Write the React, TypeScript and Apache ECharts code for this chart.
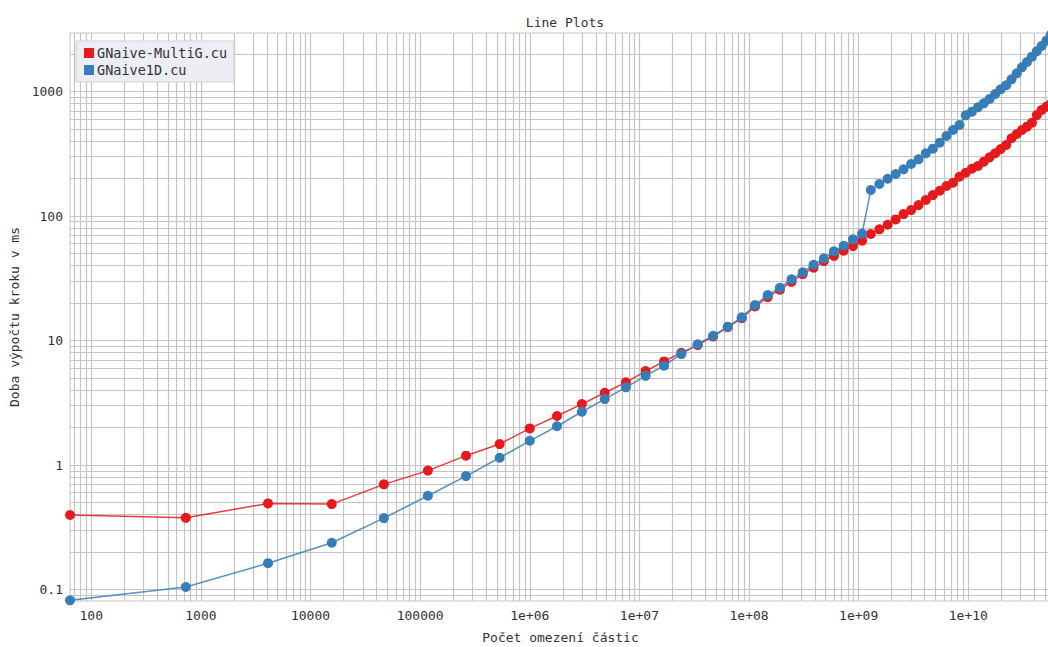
import React, { useEffect, useRef } from "react";
import * as echarts from "echarts";

// constraint counts (x axis)
const constraintCounts = [
  64, 729, 4096, 15625, 46656, 117649, 262144, 531441, 1000000, 1771561,
  2985984, 4826809, 7529536, 11390625, 16777216, 24137569, 34012224, 47045881, 64000000, 85766121,
  113379904, 148035889, 191102976, 244140625, 308915776, 387420489, 481890304, 594823321, 729000000, 887503681,
  1073741824, 1291467969, 1544804416, 1838265625, 2176782336, 2565726409, 3010936384, 3518743761, 4096000000, 4750104241,
  5489031744, 6321363049, 7256313856, 8303765625, 9474296896, 10779215329, 12230590464, 13841287201, 15625000000, 17596287801,
  19770609664, 22164361129, 24794911296, 27680640625, 30840979456, 34296447249, 38068692544, 42180533641, 46656000000, 51520374361,
  56800235584,
];

const multiGTimes = [
  0.397, 0.377, 0.492, 0.486, 0.7, 0.903, 1.19, 1.475, 1.97, 2.48,
  3.09, 3.81, 4.62, 5.69, 6.8, 7.98, 9.2, 10.8, 12.8, 15.1,
  18.8, 22.3, 25.6, 29.6, 34.2, 38.4, 43.5, 47.8, 52.7, 57.4,
  63.3, 71.7, 78.2, 85.1, 94.0, 103.7, 111.7, 122.5, 134.4, 147.4,
  159.7, 174.2, 185.1, 206.8, 222.7, 239.9, 252.2, 273.1, 296.2, 319,
  345, 372, 421, 456, 491, 522, 561, 647, 710, 755,
  800,
];

const naive1DTimes = [
  0.082, 0.105, 0.163, 0.238, 0.375, 0.567, 0.816, 1.145, 1.567, 2.05,
  2.68, 3.39, 4.21, 5.21, 6.28, 7.79, 9.32, 10.93, 12.91, 15.36,
  19.28, 23.2, 26.5, 31.0, 35.3, 40.6, 45.7, 52.1, 57.7, 65.1,
  72.3, 161.8, 180.8, 199.4, 217.5, 237.2, 261.6, 285.3, 318.8, 347.4,
  388.1, 439.2, 490.8, 538.4, 644.0, 688.5, 746.6, 803.9, 870.7, 955.0,
  1042, 1122, 1253, 1400, 1564, 1725, 1904, 2105, 2319, 2559,
  2870,
];

const seriesNames = ["GNaive-MultiG.cu", "GNaive1D.cu"];
const seriesColors = ["#e41a1c", "#377eb8"];

const xTickExponents = [2, 3, 4, 5, 6, 7, 8, 9, 10];
const xTickLabels = ["100", "1000", "10000", "100000", "1e+06", "1e+07", "1e+08", "1e+09", "1e+10"];
const yTickExponents = [-1, 0, 1, 2, 3];
const yTickLabels = ["0.1", "1", "10", "100", "1000"];

const xRange = [64, 56800235584];
const yRange = [0.081, 2950];

const gridMultipliers = [1, 2, 3, 4, 5, 6, 7, 8, 9];
const xGridDecades = [1, 2, 3, 4, 5, 6, 7, 8, 9, 10];
const yGridDecades = [-2, -1, 0, 1, 2, 3];

const FONT = "'DejaVu Sans Mono', monospace";

function labelFor(v: number, exps: number[], labels: string[]) {
  const k = Math.round(Math.log10(v));
  const i = exps.indexOf(k);
  return i >= 0 ? labels[i] : "";
}

export default function App() {
  const ref = useRef<HTMLDivElement>(null);
  useEffect(() => {
    if (!ref.current) return;
    const chart = echarts.init(ref.current, null, { renderer: "svg" });

    const gridLines: any[] = [];
    xGridDecades.forEach((d) =>
      gridMultipliers.forEach((m) => {
        const v = m * Math.pow(10, d);
        if (v > xRange[0] && v < xRange[1]) gridLines.push({ xAxis: v });
      })
    );
    yGridDecades.forEach((d) =>
      gridMultipliers.forEach((m) => {
        const v = m * Math.pow(10, d);
        if (v > yRange[0] && v < yRange[1]) gridLines.push({ yAxis: v });
      })
    );

    chart.setOption({
      animation: false,
      backgroundColor: "#ffffff",
      title: {
        text: "Line Plots",
        left: 560,
        textAlign: "center",
        top: 11,
        textStyle: { fontFamily: FONT, fontSize: 13, fontWeight: "normal", color: "#333" },
      },
      legend: {
        data: seriesNames,
        orient: "vertical",
        left: 76,
        top: 41,
        icon: "rect",
        itemWidth: 10,
        itemHeight: 10,
        itemGap: 3,
        padding: [5, 7, 5, 8],
        backgroundColor: "#eceef3",
        borderColor: "#cfd1d6",
        borderWidth: 1,
        textStyle: { fontFamily: FONT, fontSize: 13.5, color: "#333", padding: [0, 0, 0, -2] },
      },
      grid: {
        left: 70,
        top: 33,
        width: 981,
        height: 568,
        show: true,
        borderColor: "#c4c4c4",
        borderWidth: 1,
        containLabel: false,
        outerBoundsMode: "none",
      },
      xAxis: {
        type: "log",
        logBase: 10,
        min: xRange[0],
        max: xRange[1],
        splitNumber: 10,
        name: "Počet omezení částic",
        nameLocation: "middle",
        nameGap: 30,
        nameTextStyle: { fontFamily: FONT, fontSize: 13, color: "#333" },
        axisLine: { show: false },
        axisTick: { show: false },
        splitLine: { show: false },
        minorTick: { show: false },
        minorSplitLine: { show: false },
        axisLabel: {
          fontFamily: FONT,
          fontSize: 13,
          color: "#333",
          margin: 8,
          showMinLabel: false,
          showMaxLabel: false,
          formatter: (v: number) => labelFor(v, xTickExponents, xTickLabels),
        },
      },
      yAxis: {
        type: "log",
        logBase: 10,
        min: yRange[0],
        max: yRange[1],
        splitNumber: 5,
        name: "Doba výpočtu kroku v ms",
        nameLocation: "middle",
        nameGap: 48,
        nameTextStyle: { fontFamily: FONT, fontSize: 13, color: "#333" },
        axisLine: { show: false },
        axisTick: { show: false },
        splitLine: { show: false },
        minorTick: { show: false },
        minorSplitLine: { show: false },
        axisLabel: {
          fontFamily: FONT,
          fontSize: 13,
          color: "#333",
          margin: 7,
          showMinLabel: false,
          showMaxLabel: false,
          formatter: (v: number) => labelFor(v, yTickExponents, yTickLabels),
        },
      },
      series: [
        {
          name: "__grid",
          type: "line",
          data: [],
          silent: true,
          markLine: {
            silent: true,
            animation: false,
            z: 1,
            symbol: ["none", "none"],
            label: { show: false },
            emphasis: { disabled: true },
            lineStyle: { color: "#c4c4c4", width: 1.2, type: "solid" },
            data: gridLines,
          },
        },
        {
          name: seriesNames[0],
          type: "line",
          z: 3,
          data: constraintCounts.map((x, i) => [x, multiGTimes[i]]),
          symbol: "circle",
          symbolSize: 10,
          itemStyle: { color: seriesColors[0] },
          lineStyle: { color: seriesColors[0], width: 1.5, opacity: 0.85 },
        },
        {
          name: seriesNames[1],
          type: "line",
          z: 4,
          data: constraintCounts.map((x, i) => [x, naive1DTimes[i]]),
          symbol: "circle",
          symbolSize: 10,
          itemStyle: { color: seriesColors[1] },
          lineStyle: { color: seriesColors[1], width: 1.5, opacity: 0.85 },
        },
      ],
    });
    return () => chart.dispose();
  }, []);
  return (
    <div
      ref={ref}
      style={{ position: "fixed", left: 0, top: 0, width: 1048, height: 647, background: "#fff" }}
    />
  );
}
